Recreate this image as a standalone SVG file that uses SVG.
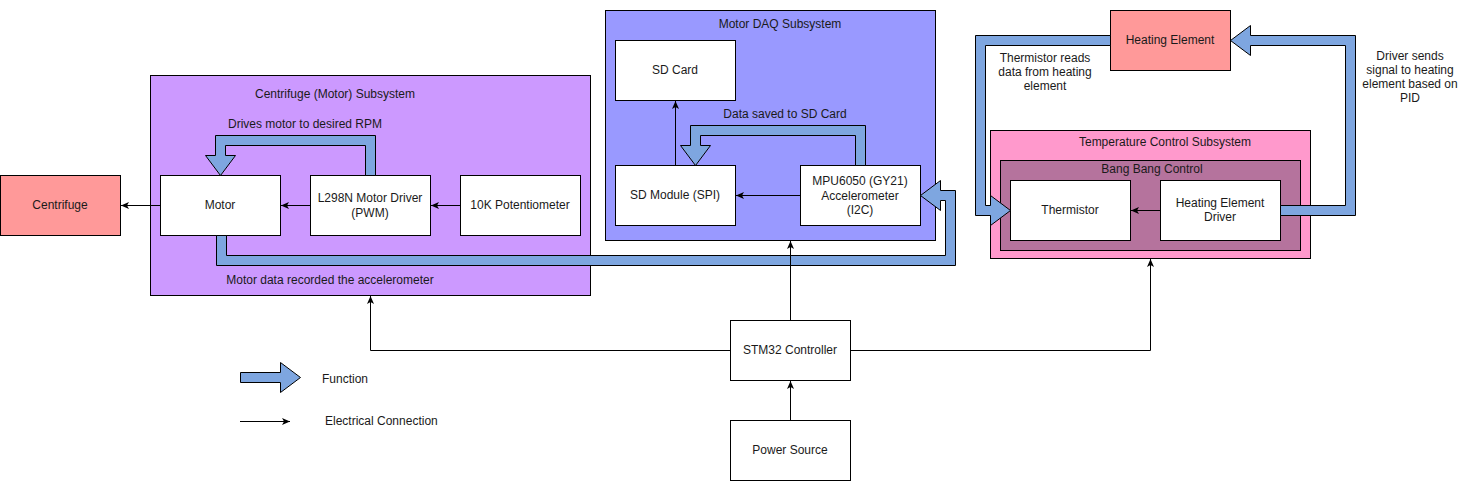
<svg xmlns="http://www.w3.org/2000/svg" width="1461" height="481" viewBox="0 0 1461 481">
<defs>
<marker id="arr" markerWidth="9" markerHeight="8" refX="8" refY="4" orient="auto" markerUnits="userSpaceOnUse">
<path d="M0,0.5 L8,4 L0,7.5 L2,4 z" fill="#000"/>
</marker>
<style>
text{font-family:"Liberation Sans",Arial,Helvetica,sans-serif;font-size:12px;fill:#1a1a1a;text-anchor:middle;dominant-baseline:central}
.box{fill:#fff;stroke:#000;stroke-width:1}
.flow{fill:#7EA6E0;stroke:#000;stroke-width:1;stroke-linejoin:miter}
.wire{fill:none;stroke:#000;stroke-width:1;marker-end:url(#arr)}
.lt{text-anchor:start}
</style>
</defs>
<rect width="1461" height="481" fill="#fff"/>

<g id="centrifuge-subsystem">
<rect x="150.5" y="75.5" width="440" height="220" fill="#CC99FF" stroke="#000"/>
<text x="335" y="94">Centrifuge (Motor) Subsystem</text>
<text x="305" y="124">Drives motor to desired RPM</text>
<text x="330" y="280">Motor data recorded the accelerometer</text>
</g>
<g id="daq-subsystem">
<rect x="605.5" y="10.5" width="330" height="230" fill="#9999FF" stroke="#000"/>
<text x="780" y="24">Motor DAQ Subsystem</text>
<text x="785" y="114">Data saved to SD Card</text>
</g>
<g id="temp-subsystem">
<rect x="990.5" y="130.5" width="320" height="128" fill="#FF99CC" stroke="#000"/>
<text x="1165" y="142">Temperature Control Subsystem</text>
</g>
<g id="bangbang">
<rect x="1000.5" y="160.5" width="300" height="90" fill="#B5739D" stroke="#000"/>
<text x="1152" y="169">Bang Bang Control</text>
</g>

<g id="centrifuge"><rect x="0.5" y="175.5" width="120" height="60" fill="#FF9999" stroke="#000"/><text x="60" y="205">Centrifuge</text></g>
<g id="motor"><rect class="box" x="160.5" y="175.5" width="120" height="60"/><text x="220" y="205">Motor</text></g>
<g id="l298n"><rect class="box" x="310.5" y="175.5" width="120" height="60"/><text x="370" y="198">L298N Motor Driver</text><text x="370" y="213">(PWM)</text></g>
<g id="pot"><rect class="box" x="460.5" y="175.5" width="120" height="60"/><text x="520" y="205">10K Potentiometer</text></g>
<g id="sdcard"><rect class="box" x="615.5" y="40.5" width="120" height="60"/><text x="675" y="70">SD Card</text></g>
<g id="sdmodule"><rect class="box" x="615.5" y="165.5" width="120" height="60"/><text x="675" y="195">SD Module (SPI)</text></g>
<g id="mpu"><rect class="box" x="800.5" y="165.5" width="120" height="60"/><text x="860" y="181">MPU6050 (GY21)</text><text x="860" y="195.5">Accelerometer</text><text x="860" y="210">(I2C)</text></g>
<g id="heating-element"><rect x="1110.5" y="10.5" width="120" height="60" fill="#FF9999" stroke="#000"/><text x="1170" y="40">Heating Element</text></g>
<g id="thermistor"><rect class="box" x="1010.5" y="180.5" width="120" height="60"/><text x="1070" y="210">Thermistor</text></g>
<g id="he-driver"><rect class="box" x="1160.5" y="180.5" width="120" height="60"/><text x="1220" y="203">Heating Element</text><text x="1220" y="217">Driver</text></g>
<g id="stm32"><rect class="box" x="730.5" y="320.5" width="120" height="60"/><text x="790" y="350">STM32 Controller</text></g>
<g id="power"><rect class="box" x="730.5" y="420.5" width="120" height="60"/><text x="790" y="450">Power Source</text></g>

<g id="labels">
<text x="1045" y="58">Thermistor reads</text>
<text x="1045" y="72">data from heating</text>
<text x="1045" y="86">element</text>
<text x="1410" y="56">Driver sends</text>
<text x="1410" y="70">signal to heating</text>
<text x="1410" y="84">element based on</text>
<text x="1410" y="98">PID</text>
</g>

<g id="connectors">
<polygon class="flow" points="365.5,175.5 365.5,145.5 225.5,145.5 225.5,155.5 235.5,155.5 220.5,175.5 205.5,155.5 215.5,155.5 215.5,135.5 375.5,135.5 375.5,175.5"/>
<polygon class="flow" points="855.5,165.5 855.5,135.5 700.5,135.5 700.5,145.5 710.5,145.5 695.5,165.5 680.5,145.5 690.5,145.5 690.5,125.5 865.5,125.5 865.5,165.5"/>
<polygon class="flow" points="216.5,235.5 216.5,265.5 955.5,265.5 955.5,190.5 940.5,190.5 940.5,180.5 920.5,195.5 940.5,210.5 940.5,200.5 945.5,200.5 945.5,255.5 226.5,255.5 226.5,235.5"/>
<polygon class="flow" points="1110.5,35.5 975.5,35.5 975.5,215.5 990.5,215.5 990.5,225.5 1010.5,210.5 990.5,195.5 990.5,205.5 985.5,205.5 985.5,45.5 1110.5,45.5"/>
<polygon class="flow" points="1280.5,215.5 1355.5,215.5 1355.5,35.5 1250.5,35.5 1250.5,25.5 1230.5,40.5 1250.5,55.5 1250.5,45.5 1345.5,45.5 1345.5,205.5 1280.5,205.5"/>

<path class="wire" d="M160.5,205.5 L121,205.5"/>
<path class="wire" d="M310.5,205.5 L281,205.5"/>
<path class="wire" d="M460.5,205.5 L431,205.5"/>
<path class="wire" d="M675.5,165.5 L675.5,101"/>
<path class="wire" d="M800.5,195.5 L736,195.5"/>
<path class="wire" d="M1160.5,210.5 L1131,210.5"/>
<path class="wire" d="M790.5,320.5 L790.5,241"/>
<path class="wire" d="M730.5,350.5 L370.5,350.5 L370.5,296"/>
<path class="wire" d="M850.5,350.5 L1150.5,350.5 L1150.5,259"/>
<path class="wire" d="M790.5,420.5 L790.5,381"/>
</g>

<g id="legend">
<polygon class="flow" points="240.5,372.5 280.5,372.5 280.5,362.5 300.5,377.5 280.5,392.5 280.5,382.5 240.5,382.5"/>
<text class="lt" x="322" y="379">Function</text>
<path class="wire" d="M240,421.5 L290,421.5"/>
<text class="lt" x="325" y="421">Electrical Connection</text>
</g>
</svg>
